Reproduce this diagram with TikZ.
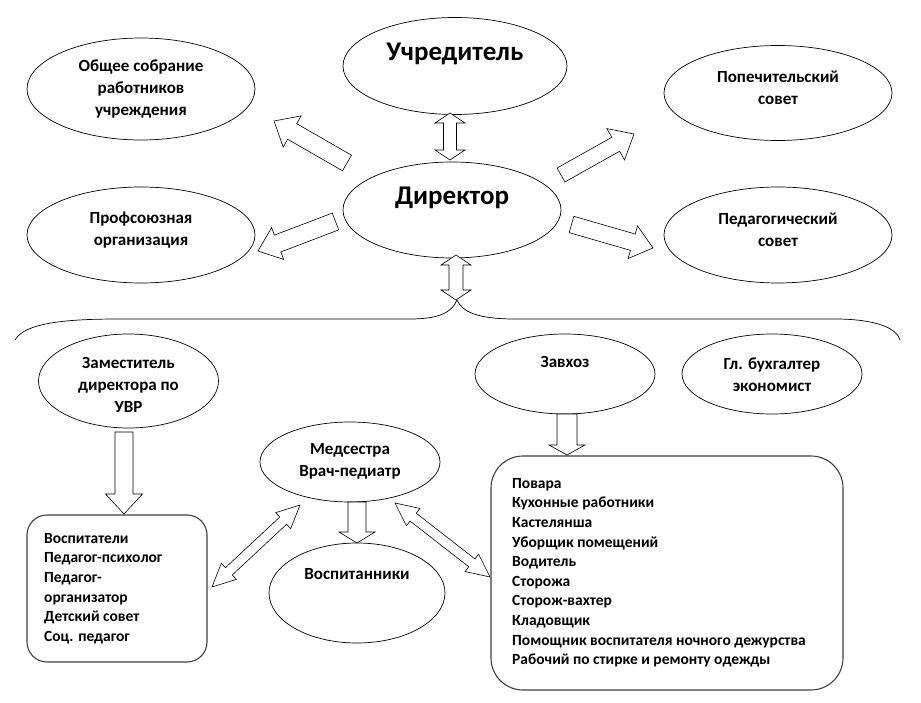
\documentclass[tikz,border=0pt]{standalone}
\usepackage{fontspec}
\setmainfont{Carlito}
\usetikzlibrary{shapes.geometric,calc}
\tikzset{
  ell/.style={draw, ellipse, line width=0.7pt, inner sep=0pt},
  rbox/.style={draw=black!75, line width=1.1pt, inner sep=0pt},
  lbl/.style={font=\bfseries\fontsize{17}{22}\selectfont, align=center, inner sep=0pt},
  big/.style={font=\bfseries\fontsize{27}{32}\selectfont, inner sep=0pt},
  lst/.style={font=\bfseries\fontsize{15.5}{19.6}\selectfont, align=left, inner sep=0pt, anchor=north west},
  blk/.style={draw, line width=0.6pt, fill=white, line join=miter},
  brace/.style={draw, line width=0.7pt},
}
\newcommand\sarrow[5]{%
  \draw[blk] ($(#1)!#3!90:(#2)$) -- ($(#2)!#5!(#1)!#3!90:(#2)$) -- ($(#2)!#5!(#1)!#4!90:(#2)$) -- (#2)
    -- ($(#2)!#5!(#1)!#4!-90:(#2)$) -- ($(#2)!#5!(#1)!#3!-90:(#2)$) -- ($(#1)!#3!-90:(#2)$) -- cycle;}
\newcommand\darrow[5]{%
  \draw[blk] (#1) -- ($(#1)!#5!(#2)!#4!90:(#2)$) -- ($(#1)!#5!(#2)!#3!90:(#2)$) -- ($(#2)!#5!(#1)!#3!90:(#2)$)
    -- ($(#2)!#5!(#1)!#4!90:(#2)$) -- (#2) -- ($(#2)!#5!(#1)!#4!-90:(#2)$) -- ($(#2)!#5!(#1)!#3!-90:(#2)$)
    -- ($(#1)!#5!(#2)!#3!-90:(#2)$) -- ($(#1)!#5!(#2)!#4!-90:(#2)$) -- cycle;}
\begin{document}
\begin{tikzpicture}[x=1pt,y=-1pt]
\useasboundingbox[fill=white] (0,0) rectangle (921,703);

% ellipses
\node[ell, minimum width=228pt, minimum height=102pt] (obs) at (141,89) {};
\node[ell, minimum width=224pt, minimum height=97pt] (uch) at (455,66) {};
\node[ell, minimum width=228pt, minimum height=95pt] (pop) at (778,93) {};
\node[ell, minimum width=218pt, minimum height=96pt] (dir) at (452,210) {};
\node[ell, minimum width=228pt, minimum height=96pt] (prof) at (141,235) {};
\node[ell, minimum width=228pt, minimum height=96pt] (ped) at (778,235) {};
\node[ell, minimum width=180pt, minimum height=94pt] (zam) at (128.5,381) {};
\node[ell, minimum width=180pt, minimum height=80pt] (zav) at (565,374) {};
\node[ell, minimum width=180pt, minimum height=80pt] (buh) at (772,374) {};
\node[ell, minimum width=180pt, minimum height=80pt] (med) at (350,462) {};
\node[ell, minimum width=176pt, minimum height=100pt] (vos) at (357,593) {};

% rounded boxes
\node[rbox, rounded corners=20pt, minimum width=180pt, minimum height=147pt] (boxa) at (117,588.5) {};
\node[rbox, rounded corners=32pt, minimum width=352pt, minimum height=234pt] (boxb) at (667,573) {};

% texts
\node[lbl] (tobs) at (141,89) {Общее собрание\\работников\\учреждения};
\node[big] (tuch) at (455,54) {Учредитель};
\node[lbl] (tpop) at (778,88) {Попечительский\\совет};
\node[big] (tdir) at (452,198) {Директор};
\node[lbl] (tprof) at (141,230) {Профсоюзная\\организация};
\node[lbl] (tped) at (778,230) {Педагогический\\совет};
\node[lbl] (tzam) at (128.5,385) {Заместитель\\директора по\\УВР};
\node[lbl] (tzav) at (565,362) {Завхоз};
\node[lbl] (tbuh) at (772,375) {Гл. бухгалтер\\экономист};
\node[lbl] (tmed) at (350,461) {Медсестра\\Врач-педиатр};
\node[lbl] (tvos) at (357,574) {Воспитанники};
\node[lst] (tla) at (44,533) {Воспитатели\\Педагог-психолог\\Педагог-\\организатор\\Детский совет\\Соц. педагог};
\node[lst] (tlb) at (512,478) {Повара\\Кухонные работники\\Кастелянша\\Уборщик помещений\\Водитель\\Сторожа\\Сторож-вахтер\\Кладовщик\\Помощник воспитателя ночного дежурства\\Рабочий по стирке и ремонту одежды};

% brace
\coordinate (brL) at (15,340);
\coordinate (brT) at (457,300);
\coordinate (brR) at (900,340);
\draw[brace] (brL) .. controls (25,322) and (70,319) .. (120,319) -- (410,319)
  .. controls (440,319) and (452,312) .. (brT)
  .. controls (462,312) and (478,319) .. (515,319) -- (835,319)
  .. controls (875,319) and (897,328) .. (brR);

% arrow end coordinates
\coordinate (a1) at (450,113);  \coordinate (a2) at (450,160);
\coordinate (b1) at (456,255);  \coordinate (b2) at (456,300);
\coordinate (o1) at (347,163);  \coordinate (o2) at (274,121);
\coordinate (p1) at (335.5,221.5); \coordinate (p2) at (258,251);
\coordinate (q1) at (561,175);  \coordinate (q2) at (634,134);
\coordinate (r1) at (571.5,224.5); \coordinate (r2) at (653,248);
\coordinate (z1) at (124,432);  \coordinate (z2) at (124,514);
\coordinate (v1) at (567,414);  \coordinate (v2) at (567,455);
\coordinate (m1) at (357,502);  \coordinate (m2) at (357,543);
\coordinate (l1) at (212,587);  \coordinate (l2) at (300,505);
\coordinate (k1) at (395,503);  \coordinate (k2) at (490,577);

\darrow{a1}{a2}{6.5pt}{15pt}{10pt}
\darrow{b1}{b2}{7pt}{15pt}{10pt}
\sarrow{o1}{o2}{9pt}{18pt}{21pt}
\sarrow{p1}{p2}{9pt}{17pt}{21pt}
\sarrow{q1}{q2}{8pt}{18pt}{21pt}
\sarrow{r1}{r2}{8.5pt}{17pt}{21pt}
\sarrow{z1}{z2}{9pt}{18.5pt}{20pt}
\sarrow{v1}{v2}{10pt}{18pt}{10pt}
\sarrow{m1}{m2}{9pt}{18pt}{11pt}
\darrow{l1}{l2}{5pt}{11pt}{23pt}
\darrow{k1}{k2}{5pt}{11pt}{23pt}
\end{tikzpicture}
\end{document}
